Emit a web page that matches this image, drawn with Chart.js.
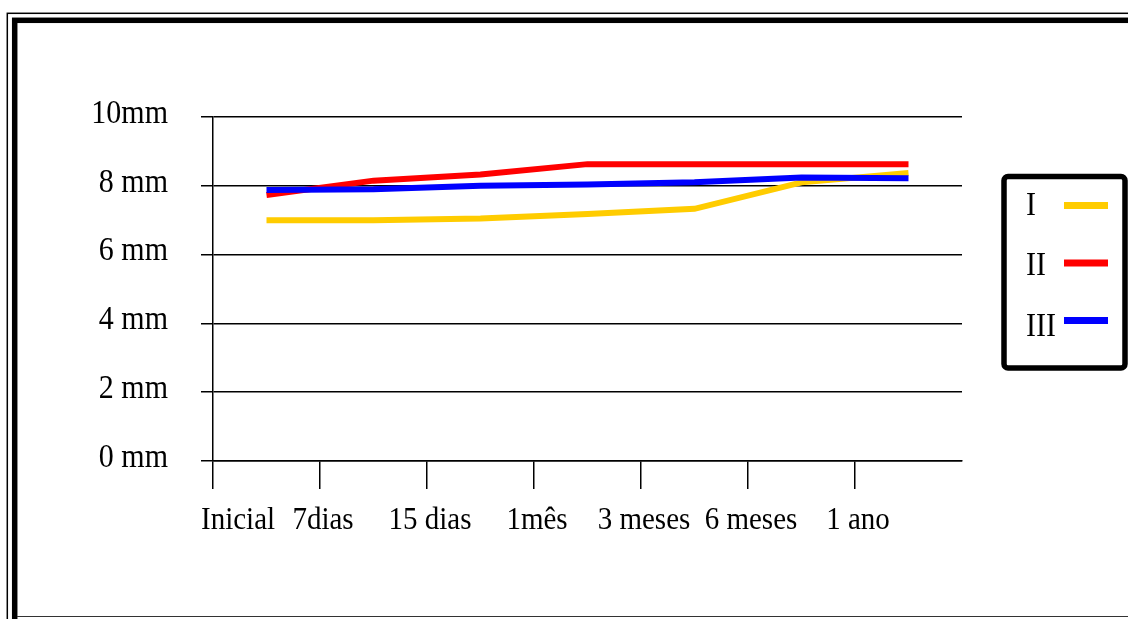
<!DOCTYPE html>
<html>
<head>
<meta charset="utf-8">
<script src="https://cdn.jsdelivr.net/npm/chart.js@4.4.0/dist/chart.umd.min.js"></script>
<style>
  html, body { margin: 0; padding: 0; background: #fff; }
  #wrap { width: 1128px; height: 619px; }
</style>
</head>
<body>
<div id="wrap"><canvas id="c" width="1128" height="619"></canvas></div>
<script>
// Measurement periods
const categories = ['Inicial', '7dias', '15 dias', '1mês', '3 meses', '6 meses', '1 ano'];
// Series names and colours
const seriesNames = ['I', 'II', 'III'];
const seriesColors = ['#FFCC00', '#FF0000', '#0000FF'];
// Values in mm for each series
const valuesI   = [7.0, 7.0, 7.05, 7.18, 7.33, 8.1, 8.37];
const valuesII  = [7.73, 8.15, 8.33, 8.63, 8.63, 8.63, 8.63];
const valuesIII = [7.88, 7.9, 8.0, 8.04, 8.1, 8.24, 8.22];
// Y axis tick labels (0 to 10 mm, step 2)
const yTickLabels = ['0 mm', '2 mm', '4 mm', '6 mm', '8 mm', '10mm'];

const FONT = '"Liberation Serif", "Times New Roman", serif';
const STRETCH = 1.12;

function drawText(ctx, text, x, y, size, align) {
  ctx.save();
  ctx.font = size + 'px ' + FONT;
  ctx.fillStyle = '#000';
  ctx.textAlign = align;
  ctx.textBaseline = 'middle';
  ctx.translate(x, y);
  ctx.scale(1, STRETCH);
  ctx.fillText(text, 0, 0);
  ctx.restore();
}

// Double page frame behind the chart
const framePlugin = {
  id: 'frame',
  beforeDraw(chart) {
    const ctx = chart.ctx;
    const W = chart.width, H = chart.height;
    ctx.save();
    ctx.fillStyle = '#fff';
    ctx.fillRect(0, 0, W, H);
    ctx.strokeStyle = '#000';
    ctx.lineWidth = 1.5;
    ctx.strokeRect(7.3, 13.3, W + 40, H + 40);
    ctx.lineWidth = 5.5;
    ctx.strokeRect(14.7, 20.3, W + 40, H + 40);
    ctx.lineWidth = 1.2;
    ctx.strokeStyle = '#333';
    ctx.beginPath();
    ctx.moveTo(17, 616.5);
    ctx.lineTo(W, 616.5);
    ctx.stroke();
    ctx.restore();
  }
};

// Axis labels and boxed legend
const labelsPlugin = {
  id: 'labels',
  afterDraw(chart) {
    const ctx = chart.ctx;
    const xs = chart.scales.x, ys = chart.scales.y;
    const area = chart.chartArea;

    // y labels, right aligned left of the axis
    yTickLabels.forEach((t, i) => {
      const y = ys.getPixelForValue(i * 2);
      drawText(ctx, t, area.left - 45, y - 3, 30, 'right');
    });

    // x labels, centred on the band boundaries
    const band = xs.getPixelForValue(1) - xs.getPixelForValue(0);
    ctx.font = '29px ' + FONT;
    categories.forEach((c, i) => {
      const w = ctx.measureText(c).width;
      let cx = xs.getPixelForValue(i) - band / 2 + 3;
      cx = Math.max(cx, area.left - 12 + w / 2);
      drawText(ctx, c, cx, 520, 29, 'center');
    });

    // legend box
    ctx.save();
    ctx.strokeStyle = '#000';
    ctx.lineWidth = 5.5;
    ctx.beginPath();
    ctx.roundRect(1004, 176.5, 121, 191.5, 4);
    ctx.stroke();
    ctx.restore();
    chart.data.datasets.forEach((ds, i) => {
      const ty = 206 + i * 60.5;
      const sy = 205.5 + i * 57.5;
      drawText(ctx, ds.label, 1026, ty, 30, 'left');
      ctx.save();
      ctx.fillStyle = ds.borderColor;
      ctx.fillRect(1064, sy - 3.5, 44, 7);
      ctx.restore();
    });
  }
};

const seriesValues = [valuesI, valuesII, valuesIII];

new Chart(document.getElementById('c'), {
  type: 'line',
  data: {
    labels: categories,
    datasets: seriesNames.map((name, i) => ({
      label: name,
      data: seriesValues[i],
      borderColor: seriesColors[i],
      backgroundColor: seriesColors[i],
      borderWidth: 6,
      pointRadius: 0,
      tension: 0,
      fill: false,
      borderCapStyle: 'butt',
      order: seriesNames.length - i
    }))
  },
  options: {
    responsive: false,
    animation: false,
    devicePixelRatio: 1,
    layout: { padding: { top: 117, right: 166, left: 0, bottom: 0 } },
    plugins: { legend: { display: false }, tooltip: { enabled: false } },
    scales: {
      x: {
        type: 'category',
        offset: true,
        ticks: { display: false },
        grid: {
          offset: true,
          drawOnChartArea: false,
          drawTicks: true,
          tickLength: 28,
          lineWidth: 1.5,
          // no tick mark after the last category
          color: (c) => (c.tick ? '#000' : 'rgba(0,0,0,0)')
        },
        border: { display: true, color: '#000', width: 1.5 },
        afterFit(s) { s.height = 158; }
      },
      y: {
        min: 0,
        max: 10,
        ticks: { stepSize: 2, display: false },
        grid: { color: '#000', lineWidth: 1.5, drawTicks: true, tickLength: 12 },
        border: { display: true, color: '#000', width: 1.5 },
        afterFit(s) { s.width = 213; }
      }
    }
  },
  plugins: [framePlugin, labelsPlugin]
});
</script>
</body>
</html>
